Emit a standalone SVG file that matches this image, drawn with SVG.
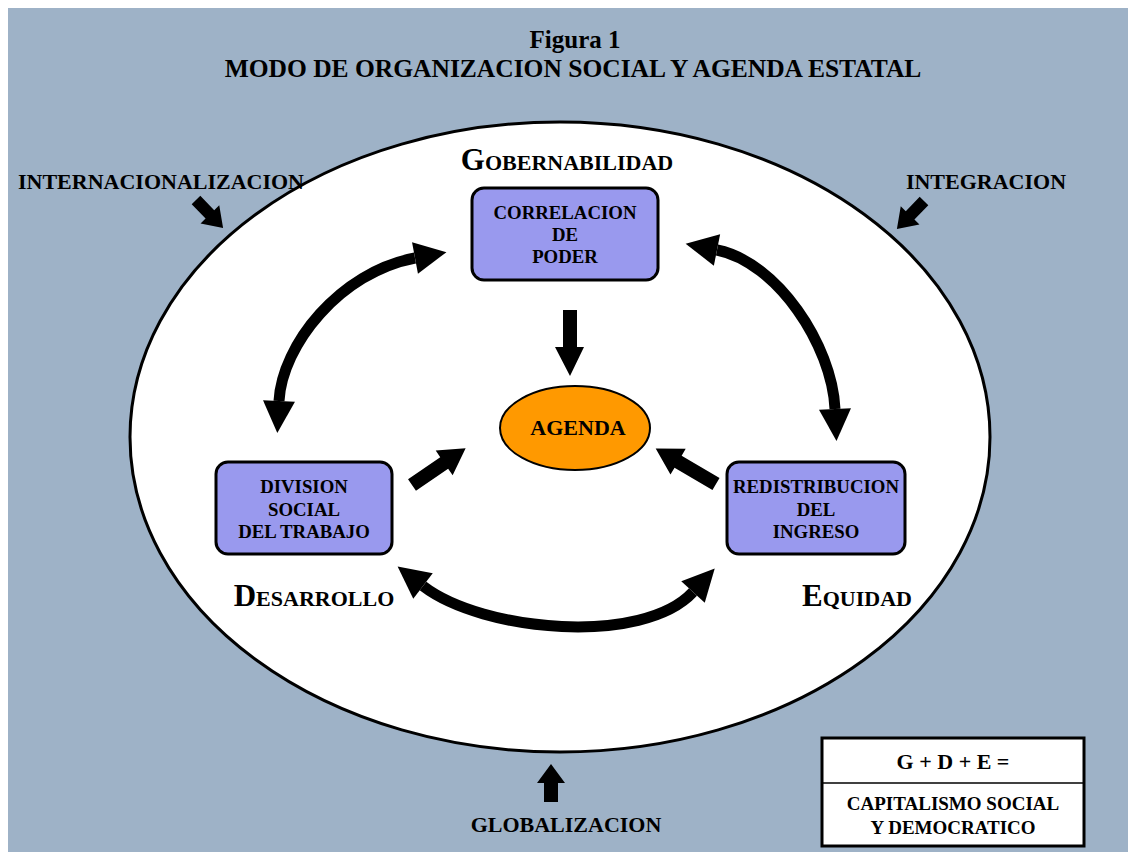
<svg xmlns="http://www.w3.org/2000/svg" width="1128" height="852" viewBox="0 0 1128 852">
<style>
.t{font-family:"Liberation Serif","Times New Roman",serif;font-weight:bold;fill:#000;text-anchor:middle}
.box{fill:#9999ee;stroke:#000;stroke-width:3}
.curve{fill:none;stroke:#000;stroke-width:11}
.blk{fill:#000}
</style>
<defs>
<marker id="head" viewBox="0 -17 34 34" markerWidth="34" markerHeight="34" refX="0" refY="0" orient="auto-start-reverse" markerUnits="userSpaceOnUse" overflow="visible">
<path d="M0,-16 L32,0 L0,16 z" fill="#000"/>
</marker>
</defs>
<rect x="0" y="0" width="1128" height="852" fill="#ffffff"/>
<rect x="8" y="8" width="1120" height="844" fill="#9eb2c7"/>
<ellipse cx="560" cy="437" rx="430" ry="315" fill="#ffffff" stroke="#000" stroke-width="3"/>

<text class="t" x="575" y="48" font-size="25">Figura 1</text>
<text class="t" x="573" y="77" font-size="25.5">MODO DE ORGANIZACION SOCIAL Y AGENDA ESTATAL</text>

<g id="gobernabilidad"><text class="t" x="567" y="170"><tspan font-size="31">G</tspan><tspan font-size="22">OBERNABILIDAD</tspan></text></g>
<g id="desarrollo"><text class="t" x="314" y="606"><tspan font-size="31">D</tspan><tspan font-size="22">ESARROLLO</tspan></text></g>
<g id="equidad"><text class="t" x="857" y="606"><tspan font-size="31">E</tspan><tspan font-size="22">QUIDAD</tspan></text></g>

<g id="internacionalizacion"><text class="t" x="161" y="189" font-size="22">INTERNACIONALIZACION</text></g>
<g id="integracion"><text class="t" x="986" y="189" font-size="22">INTEGRACION</text></g>
<g id="globalizacion"><text class="t" x="566" y="832" font-size="22">GLOBALIZACION</text></g>

<g id="correlacion">
<rect class="box" x="472" y="188" width="186" height="92" rx="12"/>
<text class="t" x="565" y="219" font-size="18.8">CORRELACION</text>
<text class="t" x="565" y="241" font-size="18.8">DE</text>
<text class="t" x="565" y="263" font-size="18.8">PODER</text>
</g>
<g id="division">
<rect class="box" x="216" y="462" width="176" height="92" rx="12"/>
<text class="t" x="304" y="493" font-size="18.8">DIVISION</text>
<text class="t" x="304" y="516" font-size="18.8">SOCIAL</text>
<text class="t" x="304" y="538" font-size="18.8">DEL TRABAJO</text>
</g>
<g id="redistribucion">
<rect class="box" x="727" y="462" width="178" height="92" rx="12"/>
<text class="t" x="816" y="493" font-size="18.8">REDISTRIBUCION</text>
<text class="t" x="816" y="516" font-size="18.8">DEL</text>
<text class="t" x="816" y="538" font-size="18.8">INGRESO</text>
</g>
<g id="agenda">
<ellipse cx="575" cy="428" rx="75" ry="42" fill="#ff9900" stroke="#000" stroke-width="2"/>
<text class="t" x="578" y="435" font-size="22">AGENDA</text>
</g>

<g id="legend">
<rect x="822" y="738" width="262" height="108" fill="#ffffff" stroke="#000" stroke-width="3"/>
<line x1="822" y1="783" x2="1084" y2="783" stroke="#000" stroke-width="1.5"/>
<text class="t" x="953" y="769" font-size="22">G + D + E =</text>
<text class="t" x="953" y="810" font-size="19">CAPITALISMO SOCIAL</text>
<text class="t" x="953" y="834" font-size="19">Y DEMOCRATICO</text>
</g>

<g id="connectors">
<path class="curve" d="M279,401 C282,345 340,272 415,258" marker-start="url(#head)" marker-end="url(#head)"/>
<path class="curve" d="M717,250 C777,262 832,345 835,409" marker-start="url(#head)" marker-end="url(#head)"/>
<path class="curve" d="M423,586 C483,632 643,646 693,592" marker-start="url(#head)" marker-end="url(#head)"/>
<polygon class="blk" points="563,310 577,310 577,347 584,347 570,376 555,347 563,347"/>
<polygon class="blk" points="0,-7 39,-7 39,-15 65,0 39,15 39,7 0,7" transform="translate(412,485) rotate(-34.4)"/>
<polygon class="blk" points="0,-7 44,-7 44,-15 70,0 44,15 44,7 0,7" transform="translate(716,484) rotate(-149.5)"/>
<polygon class="blk" points="0,-6 20,-6 20,-13 39,0 20,13 20,6 0,6" transform="translate(196,200) rotate(46)"/>
<polygon class="blk" points="0,-6 20,-6 20,-13 39,0 20,13 20,6 0,6" transform="translate(924,201) rotate(134)"/>
<polygon class="blk" points="0,-7 19,-7 19,-14 38,0 19,14 19,7 0,7" transform="translate(551,802) rotate(-90)"/>
</g>
</svg>
